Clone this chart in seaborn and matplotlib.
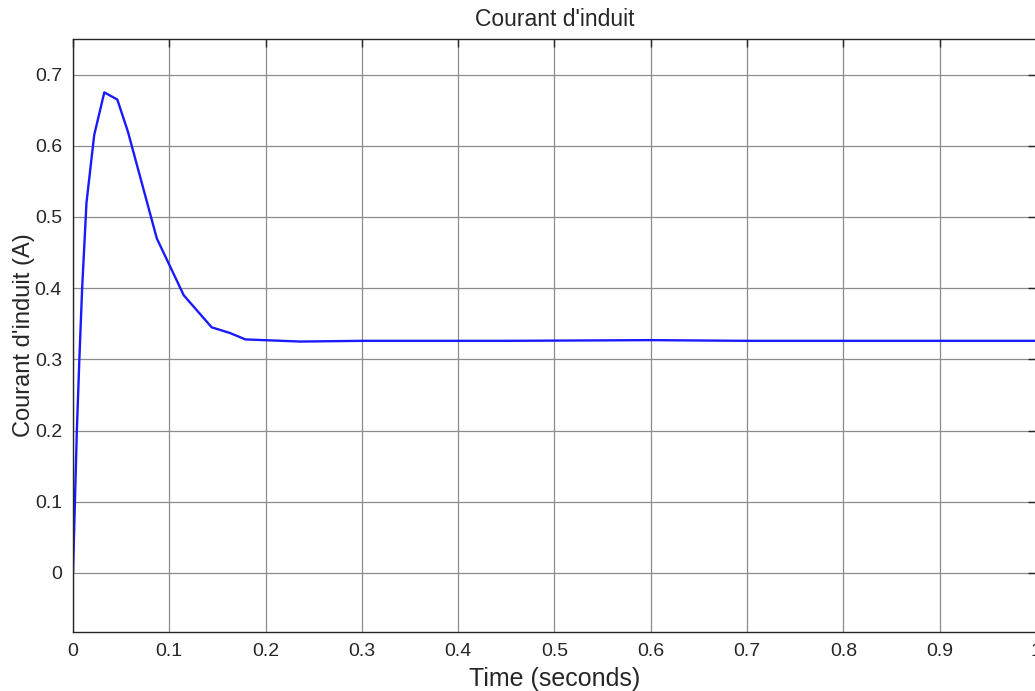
import matplotlib
matplotlib.use("Agg")
import matplotlib.pyplot as plt
import seaborn as sns
import pandas as pd

time_s = [0.0, 0.002, 0.004, 0.0066, 0.0095, 0.014, 0.022, 0.0325, 0.046, 0.057,
          0.072, 0.087, 0.115, 0.144, 0.163, 0.179, 0.236, 0.3, 0.45, 0.6, 0.7, 1.0]
current_a = [0.0, 0.1, 0.2, 0.3, 0.4, 0.52, 0.615, 0.675, 0.665, 0.62,
             0.545, 0.47, 0.39, 0.345, 0.337, 0.328, 0.325, 0.326, 0.326, 0.327, 0.326, 0.326]
x_ticks = [0, 0.1, 0.2, 0.3, 0.4, 0.5, 0.6, 0.7, 0.8, 0.9, 1]
x_tick_labels = ["0", "0.1", "0.2", "0.3", "0.4", "0.5", "0.6", "0.7", "0.8", "0.9", "1"]
y_ticks = [0, 0.1, 0.2, 0.3, 0.4, 0.5, 0.6, 0.7]
y_tick_labels = ["0", "0.1", "0.2", "0.3", "0.4", "0.5", "0.6", "0.7"]

sns.set_style("white")
plt.rcParams["font.family"] = ["Liberation Sans", "DejaVu Sans"]

df = pd.DataFrame({"t": time_s, "i": current_a})

fig = plt.figure(figsize=(10.35, 6.91), dpi=100)
ax = fig.add_axes([73 / 1035, (691 - 632) / 691, 963 / 1035, (632 - 39) / 691])
sns.lineplot(data=df, x="t", y="i", ax=ax, color="#1a1aff", linewidth=1.7, sort=False)

ax.set_xlim(0, 1)
ax.set_ylim(-0.083, 0.75)
ax.set_xticks(x_ticks)
ax.set_xticklabels(x_tick_labels)
ax.set_yticks(y_ticks)
ax.set_yticklabels(y_tick_labels)
ax.grid(True, color="#8c8c8c", linewidth=0.9)
ax.set_axisbelow(True)
for s in ax.spines.values():
    s.set_color("#262626")
    s.set_linewidth(1.0)
ax.tick_params(direction="in", length=6, width=1, colors="#262626",
               labelsize=14, top=True, right=True, labelcolor="#262626", pad=8)
ax.set_xlabel("Time (seconds)", fontsize=18, labelpad=5)
ax.set_ylabel("Courant d'induit (A)", fontsize=17, labelpad=0)
ax.set_title("Courant d'induit", fontsize=16.5, pad=9)

fig.savefig("out.png", dpi=100)
